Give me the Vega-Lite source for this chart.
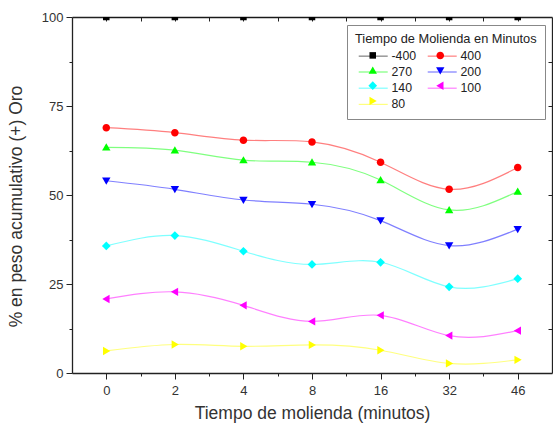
{
  "$schema": "https://vega.github.io/schema/vega-lite/v6.json",
  "width": 480,
  "height": 356,
  "autosize": {"type": "none"},
  "padding": {"left": 72, "top": 17, "right": 1, "bottom": 55},
  "background": "white",
  "config": {
    "font": "Liberation Sans",
    "view": {"stroke": null},
    "axis": {"grid": false, "domainColor": "#222", "tickColor": "#222", "labelColor": "#333", "titleColor": "#333", "labelFont": "Liberation Sans", "titleFont": "Liberation Sans", "titleFontWeight": "normal"}
  },
  "data": {"values": [
    {"serie": "-400", "t": "0", "idx": 0, "v": 100}, {"serie": "-400", "t": "2", "idx": 1, "v": 100}, {"serie": "-400", "t": "4", "idx": 2, "v": 100}, {"serie": "-400", "t": "8", "idx": 3, "v": 100}, {"serie": "-400", "t": "16", "idx": 4, "v": 100}, {"serie": "-400", "t": "32", "idx": 5, "v": 100}, {"serie": "-400", "t": "46", "idx": 6, "v": 100},
    {"serie": "400", "t": "0", "idx": 0, "v": 68.9}, {"serie": "400", "t": "2", "idx": 1, "v": 67.5}, {"serie": "400", "t": "4", "idx": 2, "v": 65.4}, {"serie": "400", "t": "8", "idx": 3, "v": 64.9}, {"serie": "400", "t": "16", "idx": 4, "v": 59.2}, {"serie": "400", "t": "32", "idx": 5, "v": 51.6}, {"serie": "400", "t": "46", "idx": 6, "v": 57.7},
    {"serie": "270", "t": "0", "idx": 0, "v": 63.4}, {"serie": "270", "t": "2", "idx": 1, "v": 62.6}, {"serie": "270", "t": "4", "idx": 2, "v": 59.8}, {"serie": "270", "t": "8", "idx": 3, "v": 59.2}, {"serie": "270", "t": "16", "idx": 4, "v": 54.2}, {"serie": "270", "t": "32", "idx": 5, "v": 45.8}, {"serie": "270", "t": "46", "idx": 6, "v": 51.0},
    {"serie": "200", "t": "0", "idx": 0, "v": 54.0}, {"serie": "200", "t": "2", "idx": 1, "v": 51.6}, {"serie": "200", "t": "4", "idx": 2, "v": 48.6}, {"serie": "200", "t": "8", "idx": 3, "v": 47.4}, {"serie": "200", "t": "16", "idx": 4, "v": 42.8}, {"serie": "200", "t": "32", "idx": 5, "v": 35.8}, {"serie": "200", "t": "46", "idx": 6, "v": 40.4},
    {"serie": "140", "t": "0", "idx": 0, "v": 35.7}, {"serie": "140", "t": "2", "idx": 1, "v": 38.6}, {"serie": "140", "t": "4", "idx": 2, "v": 34.2}, {"serie": "140", "t": "8", "idx": 3, "v": 30.5}, {"serie": "140", "t": "16", "idx": 4, "v": 31.1}, {"serie": "140", "t": "32", "idx": 5, "v": 24.2}, {"serie": "140", "t": "46", "idx": 6, "v": 26.5},
    {"serie": "100", "t": "0", "idx": 0, "v": 20.8}, {"serie": "100", "t": "2", "idx": 1, "v": 22.8}, {"serie": "100", "t": "4", "idx": 2, "v": 19.0}, {"serie": "100", "t": "8", "idx": 3, "v": 14.5}, {"serie": "100", "t": "16", "idx": 4, "v": 16.2}, {"serie": "100", "t": "32", "idx": 5, "v": 10.5}, {"serie": "100", "t": "46", "idx": 6, "v": 11.9},
    {"serie": "80", "t": "0", "idx": 0, "v": 6.2}, {"serie": "80", "t": "2", "idx": 1, "v": 8.0}, {"serie": "80", "t": "4", "idx": 2, "v": 7.5}, {"serie": "80", "t": "8", "idx": 3, "v": 7.9}, {"serie": "80", "t": "16", "idx": 4, "v": 6.4}, {"serie": "80", "t": "32", "idx": 5, "v": 2.7}, {"serie": "80", "t": "46", "idx": 6, "v": 3.7}
  ]},
  "resolve": {"axis": {"x": "independent", "y": "independent"}},
  "layer": [
    {
      "mark": {"type": "line", "interpolate": "natural", "strokeWidth": 1.2, "strokeOpacity": 0.5, "clip": true},
      "encoding": {
        "x": {"field": "idx", "type": "quantitative", "scale": {"domain": [-0.5, 6.5], "nice": false, "zero": false},
              "axis": {"orient": "bottom", "values": [0.5, 1.5, 2.5, 3.5, 4.5, 5.5], "labels": false, "domain": false, "tickSize": 3, "title": null}},
        "y": {"field": "v", "type": "quantitative", "scale": {"domain": [0, 100], "nice": false},
              "axis": {"orient": "left", "values": [12.5, 37.5, 62.5, 87.5], "labels": false, "domain": false, "tickSize": 3, "title": null}},
        "stroke": {"field": "serie", "type": "nominal", "sort": ["-400", "400", "270", "200", "140", "100", "80"],
                  "scale": {"range": ["#000000", "#ff0000", "#00ff00", "#0000ff", "#00ffff", "#ff00ff", "#ffff00"]},
                  "legend": {"title": "Tiempo de Molienda en Minutos", "orient": "none", "legendX": 275, "legendY": 8, "direction": "horizontal", "columns": 2, "columnPadding": 7, "rowPadding": 1.2, "padding": 8, "strokeColor": "#888", "titleFontSize": 12.8, "titleLimit": 300, "titleFontWeight": "normal", "titleColor": "#222", "titlePadding": 2, "labelFontSize": 12.3, "labelColor": "#222", "labelOffset": 20.5, "symbolType": "M-0.59,0H3.41", "symbolSize": 210, "symbolStrokeWidth": 1.2, "symbolOpacity": 0.5}},
        "detail": {"field": "serie"}
      }
    },
    {
      "mark": {"type": "point", "filled": true, "opacity": 1, "size": 210, "clip": true},
      "encoding": {
        "x": {"field": "idx", "type": "quantitative",
              "axis": {"orient": "bottom", "values": [0, 1, 2, 3, 4, 5, 6], "labelExpr": "['0','2','4','8','16','32','46'][datum.value]", "tickSize": 6, "labelFontSize": 13, "labelPadding": 5, "title": "Tiempo de molienda (minutos)", "titleFontSize": 17.5, "titlePadding": 7, "domainWidth": 1.3}},
        "y": {"field": "v", "type": "quantitative",
              "axis": {"orient": "left", "values": [0, 25, 50, 75, 100], "tickSize": 6, "labelFontSize": 13, "labelPadding": 3, "title": "% en peso acumulativo (+) Oro", "titleFontSize": 17.5, "titleX": -47, "titleY": 189, "domainWidth": 1.3}},
        "color": {"field": "serie", "type": "nominal",
                  "scale": {"domain": ["-400", "400", "270", "200", "140", "100", "80"], "range": ["#000000", "#ff0000", "#00ff00", "#0000ff", "#00ffff", "#ff00ff", "#ffff00"]},
                  "legend": {"title": null, "orient": "none", "legendX": 285.25, "legendY": 22.8, "direction": "horizontal", "columns": 2, "columnPadding": 31.5, "rowPadding": 1.2, "padding": 8, "strokeColor": "transparent", "labelExpr": "''", "labelFontSize": 12.3, "labelOffset": 20.5, "symbolSize": 210, "symbolOpacity": 1, "symbolStrokeWidth": 0}},
        "shape": {"field": "serie", "type": "nominal",
                  "scale": {"domain": ["-400", "400", "270", "200", "140", "100", "80"],
                            "range": ["M-0.45,-0.45H0.45V0.45H-0.45Z", "M0.52,0A0.52,0.52,0,1,1,-0.52,0A0.52,0.52,0,1,1,0.52,0Z", "M0,-0.55L0.58,0.45H-0.58Z", "M0,0.55L0.58,-0.45H-0.58Z", "M0,-0.6L0.6,0L0,0.6L-0.6,0Z", "M-0.55,0L0.45,-0.58V0.58Z", "M0.55,0L-0.45,-0.58V0.58Z"]},
                  "legend": {"title": null, "orient": "none", "legendX": 285.25, "legendY": 22.8, "direction": "horizontal", "columns": 2, "columnPadding": 31.5, "rowPadding": 1.2, "padding": 8, "strokeColor": "transparent", "labelExpr": "''", "labelFontSize": 12.3, "labelOffset": 20.5, "symbolSize": 210, "symbolOpacity": 1, "symbolStrokeWidth": 0}}
      }
    },
    {
      "mark": {"type": "point", "opacity": 0},
      "encoding": {
        "x": {"field": "idx", "type": "quantitative",
              "axis": {"orient": "top", "values": [0, 0.5, 1, 1.5, 2, 2.5, 3, 3.5, 4, 4.5, 5, 5.5, 6], "labels": false, "tickSize": -4, "title": null, "domainWidth": 1.3}},
        "y": {"field": "v", "type": "quantitative",
              "axis": {"orient": "right", "values": [12.5, 25, 37.5, 50, 62.5, 75, 87.5], "labels": false, "tickSize": -4, "title": null, "domainWidth": 1.3}}
      }
    }
  ]
}
